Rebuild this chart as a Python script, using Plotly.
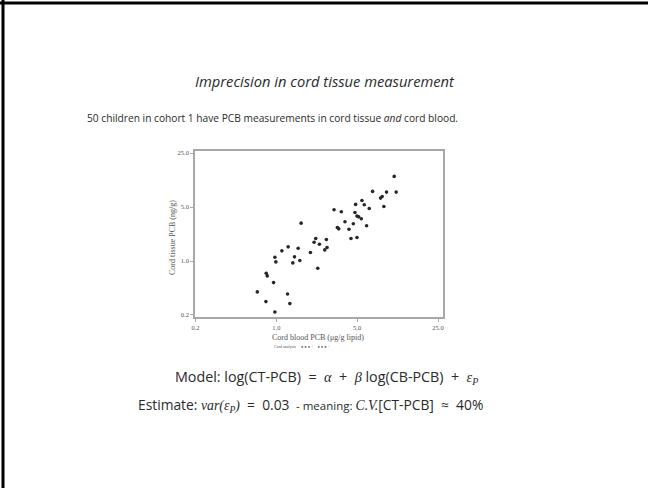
import plotly.graph_objects as go

# ---- data ----
cord_blood_pcb = [0.685, 0.813, 0.818, 0.835, 0.947, 0.972, 0.972, 0.991, 1.117, 1.25,
                  1.266, 1.309, 1.389, 1.436, 1.544, 1.596, 1.639, 1.972, 2.122, 2.192,
                  2.282, 2.358, 2.622, 2.709, 2.746, 3.155, 3.372, 3.462, 3.648, 3.924,
                  4.249, 4.422, 4.63, 4.786, 4.85, 4.98, 4.98, 5.15, 5.43, 5.50,
                  5.76, 6.03, 6.36, 6.80, 7.96, 8.23, 8.51, 8.97, 10.45, 10.87]
cord_tissue_pcb = [0.398, 0.298, 0.694, 0.641, 0.525, 0.219, 1.119, 0.974, 1.353, 0.374,
                   1.524, 0.281, 0.945, 1.131, 1.465, 1.013, 3.09, 1.287, 1.752, 1.954,
                   0.806, 1.65, 1.393, 1.898, 1.494, 4.60, 2.714, 2.608, 4.336, 3.216,
                   2.582, 1.954, 3.03, 4.25, 5.40, 2.014, 3.81, 3.73, 3.52, 6.08,
                   5.34, 2.854, 4.79, 7.96, 6.52, 6.85, 5.08, 7.80, 12.45, 7.80]
tick_values = [0.2, 1.0, 5.0, 25.0]
tick_labels = ["0.2", "1.0", "5.0", "25.0"]

W, H = 648, 488
L, R, T, B = 195, 443, 151, 317   # plot area in pixels


def px(x):
    return (x - L) / (R - L)


def py(y):
    return (B - y) / (B - T)


SANS = "Open Sans"
SERIF = "Liberation Serif"
TXT = "#2a2a2a"

fig = go.Figure()
fig.add_trace(go.Scatter(
    x=cord_blood_pcb, y=cord_tissue_pcb, mode="markers",
    marker=dict(size=3.6, color="#262626", line=dict(width=0)),
    showlegend=False, hoverinfo="skip"))

axis_common = dict(
    type="log", tickvals=tick_values, ticktext=tick_labels,
    showgrid=False, zeroline=False, showline=True, mirror=True,
    linecolor="#a8a8a8", linewidth=1.5, ticks="outside", ticklen=3,
    tickcolor="#a8a8a8", tickwidth=1,
    tickfont=dict(family=SERIF, size=6.5, color="#555555"))

fig.update_layout(
    width=W, height=H,
    margin=dict(l=L, r=W - R, t=T, b=H - B, pad=0),
    paper_bgcolor="white", plot_bgcolor="white",
    xaxis=dict(range=[-0.703, 1.441], **axis_common),
    yaxis=dict(range=[-0.725, 1.424], **axis_common),
)

ann = []


def add_text(text, x, y, size, family=SANS, color=TXT, angle=0):
    ann.append(dict(text=text, x=px(x), y=py(y), xref="paper", yref="paper",
                    showarrow=False, xanchor="center", yanchor="middle",
                    textangle=angle, font=dict(family=family, size=size, color=color)))


add_text("<i>Imprecision in cord tissue measurement</i>", 325, 81, 14.7)
add_text("50 children in cohort 1 have PCB measurements in cord tissue <i>and</i> cord blood.",
         272, 118, 10.2)
add_text("Cord blood PCB (μg/g lipid)", 318, 337, 8, family=SERIF, color="#555555")
add_text("Cord tissue PCB (ng/g)", 172, 238, 8, family=SERIF, color="#555555", angle=-90)
add_text("Cord analysis &nbsp;&nbsp;&nbsp; ● ● ● + &nbsp;&nbsp; ● ● ● +", 302, 346, 4,
         family=SERIF, color="#555555")

sv = '<span style="font-family:Liberation Serif"><i>%s</i></span>'
model = ("Model: log(CT-PCB)  =  " + sv % "α" + "  +  " + sv % "β" + " log(CB-PCB)  +  "
         + sv % "ε<sub>P</sub>")
add_text(model, 326, 377, 14.3)
est = ("Estimate: " + sv % "var(ε<sub>P</sub>)" + "  =  0.03 "
       + '<span style="font-size:11.5px"> - meaning: </span>'
       + sv % "C.V." + "[CT-PCB]  ≈  40%")
add_text(est, 310, 405, 13.8)

fig.update_layout(annotations=ann)

# slide border: top and left black lines
shapes = [
    dict(type="line", xref="paper", yref="paper", x0=px(0), x1=px(W), y0=py(3), y1=py(3),
         line=dict(color="black", width=3)),
    dict(type="line", xref="paper", yref="paper", x0=px(3), x1=px(3), y0=py(0), y1=py(H),
         line=dict(color="black", width=3)),
]
fig.update_layout(shapes=shapes)

fig.write_html("out.html")
